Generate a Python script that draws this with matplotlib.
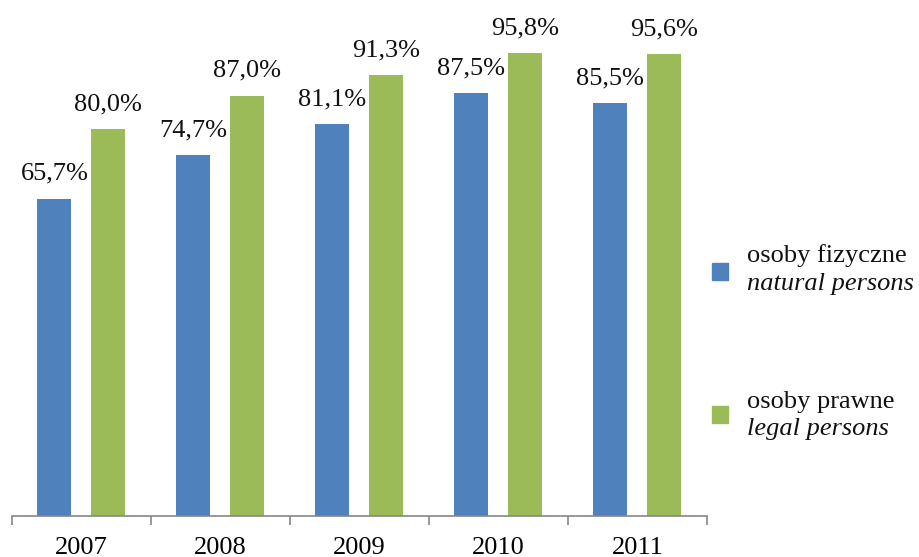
import numpy as np
import matplotlib.pyplot as plt
from matplotlib.patches import Rectangle

plt.rcParams['font.family'] = ['Liberation Serif', 'DejaVu Serif']

lata = ['2007', '2008', '2009', '2010', '2011']
fizyczne = [65.7, 74.7, 81.1, 87.5, 85.5]   # osoby fizyczne / natural persons
prawne = [80.0, 87.0, 91.3, 95.8, 95.6]     # osoby prawne / legal persons

niebieski = '#4F81BD'
zielony = '#9BBB59'
szary = '#868686'

W, H = 920, 557
fig = plt.figure(figsize=(W / 100, H / 100), dpi=100)
# oś: od x=12 do x=707 px, linia bazowa na y=516 px
ax = fig.add_axes([12 / W, (H - 516) / H, 695 / W, 516 / H])

x = np.arange(len(lata))
szer = 0.245
b1 = ax.bar(x - 0.195, fizyczne, szer, color=niebieski)
b2 = ax.bar(x + 0.19, prawne, szer, color=zielony)

# etykiety wartości nad słupkami
for slupki, wart in ((b1, fizyczne), (b2, prawne)):
    for s, v in zip(slupki, wart):
        ax.annotate(f'{v:.1f}%'.replace('.', ','),
                    (s.get_x() + s.get_width() / 2, v),
                    xytext=(0, 13.5), textcoords='offset points',
                    ha='center', va='baseline', fontsize=19, color='#111111')

ax.set_xlim(-0.5, len(lata) - 0.5)
ax.set_ylim(0, 106.8)

for k in ('left', 'right', 'top'):
    ax.spines[k].set_visible(False)
ax.spines['bottom'].set_color(szary)
ax.spines['bottom'].set_linewidth(1.2)
ax.set_yticks([])

# kreski podziału między kategoriami, podpisy lat pośrodku
ax.set_xticks(np.arange(-0.5, len(lata), 1.0))
ax.set_xticklabels([])
ax.tick_params(axis='x', which='major', length=6.5, width=1.2, color=szary)
ax.set_xticks(x, minor=True)
ax.set_xticklabels(lata, minor=True, fontsize=19)
ax.tick_params(axis='x', which='minor', length=0, pad=15)

# legenda rysowana ręcznie (dwie linie, druga kursywą)
def wpis(kolor, y_kw, linia1, linia2, y1, y2):
    fig.add_artist(Rectangle((712 / W, (H - y_kw - 17) / H), 16 / W, 17 / H,
                             transform=fig.transFigure, color=kolor))
    fig.text(747 / W, (H - y1) / H, linia1, fontsize=19, va='baseline',
             color='#111111')
    fig.text(747 / W, (H - y2) / H, linia2, fontsize=19, va='baseline',
             style='italic', color='#111111')

wpis(niebieski, 263, 'osoby fizyczne', 'natural persons', 262, 290)
wpis(zielony, 406, 'osoby prawne', 'legal persons', 408, 435)

plt.savefig('out.png', dpi=100)
